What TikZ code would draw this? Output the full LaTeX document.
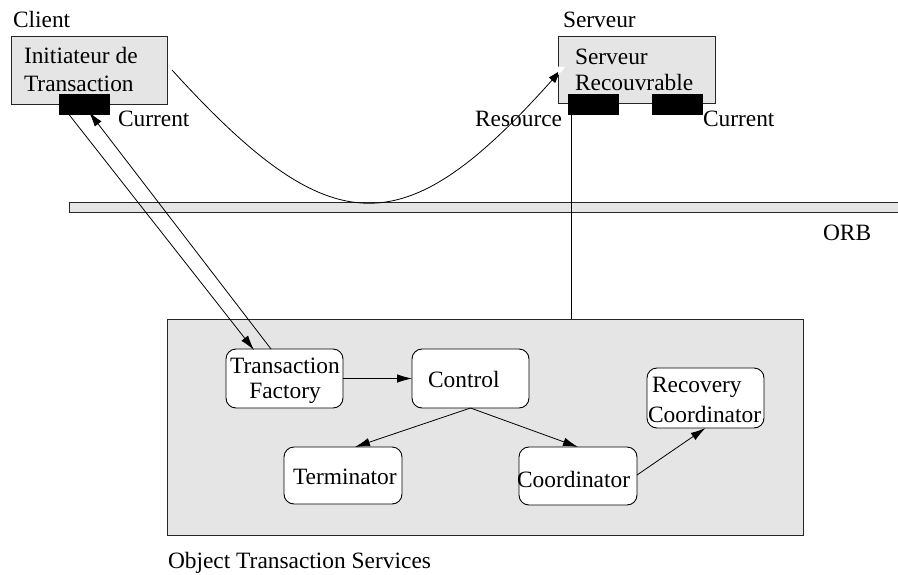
\documentclass[tikz,border=0pt]{standalone}
\usepackage{fontspec}
\setmainfont{Liberation Serif}
\usetikzlibrary{arrows.meta}
\definecolor{panel}{gray}{0.898}
\definecolor{edge}{gray}{0.15}
\tikzset{
  shaded/.style={draw=edge, fill=panel, line width=1pt, inner sep=0pt, outer sep=0pt},
  stub/.style={fill=black, draw=black, inner sep=0pt, outer sep=0pt, minimum width=50pt, minimum height=20pt},
  objbox/.style={draw=black, fill=white, line width=0.9pt, rounded corners=10pt, inner sep=0pt, outer sep=0pt},
  txt/.style={inner sep=0pt, outer sep=0pt, anchor=base west, font=\fontsize{23.4}{26}\selectfont},
  ctxt/.style={txt, anchor=base},
  link/.style={line width=0.8pt, -{Latex[length=15pt,width=8.5pt]}},
  wire/.style={line width=0.8pt}
}
\begin{document}
\begin{tikzpicture}[x=1pt,y=-1pt]
\useasboundingbox (0,0) rectangle (898,574);

% ORB bus
\node[shaded, minimum width=835pt, minimum height=10pt, anchor=north west] (orb) at (69,202) {};
\node[txt] (orblbl) at (823,240) {ORB};

% client side
\node[txt] (clientlbl) at (13,27) {Client};
\node[shaded, minimum width=156pt, minimum height=68pt] (client) at (89,70) {};
\node[txt] (cliA) at (24,63) {Initiateur de};
\node[txt] (cliB) at (24,91) {Transaction};
\node[stub] (cliCur) at (84,104) {};
\node[txt] (cliCurlbl) at (118,126) {Current};

% server side
\node[txt] (serverlbl) at (563,27) {Serveur};
\node[shaded, minimum width=157pt, minimum height=67pt] (server) at (636.5,69.5) {};
\node[txt] (srvA) at (575,64) {Serveur};
\node[txt] (srvB) at (575,90) {Recouvrable};
\node[stub] (srvRes) at (593,104) {};
\node[stub] (srvCur) at (677,104) {};
\node[txt] (srvReslbl) at (475,126) {Resource};
\node[txt] (srvCurlbl) at (703,126) {Current};

% transaction service
\node[shaded, minimum width=636pt, minimum height=216pt] (ots) at (485,427) {};
\node[txt] (otslbl) at (168,568) {Object Transaction Services};

\node[objbox, minimum width=117pt, minimum height=59pt] (fact) at (284.5,378.5) {};
\node[ctxt] (factA) at (285,373) {Transaction};
\node[ctxt] (factB) at (285,398) {Factory};

\node[objbox, minimum width=117pt, minimum height=59pt] (ctrl) at (470.5,378.5) {};
\node[txt] (ctrlA) at (428,387) {Control};

\node[objbox, minimum width=118pt, minimum height=57pt] (term) at (343,475.5) {};
\node[txt] (termA) at (293,484) {Terminator};

\node[objbox, minimum width=118pt, minimum height=58pt] (coord) at (578,476) {};
\node[txt] (coordA) at (517,487) {Coordinator};

\node[objbox, minimum width=117pt, minimum height=60pt] (recov) at (705.5,398) {};
\node[txt] (recovA) at (652,392) {Recovery};
\node[txt] (recovB) at (648,422) {Coordinator};

% connectors inside the service
\draw[link] (fact.east) -- (ctrl.west);
\draw[link] (ctrl.south) -- ([xshift=12pt]term.north);
\draw[link] (ctrl.south) -- (coord.north);
\draw[link] ([yshift=1pt]coord.east) -- (recov.south);

% client <-> factory
\draw[link] ([xshift=8pt,yshift=2pt]cliCur.south west) -- ([xshift=28pt,yshift=-1pt]fact.north west);
\draw[link] ([xshift=45pt]fact.north west) -- ([xshift=30pt,yshift=2pt]cliCur.south west);

% resource registration line
\coordinate (resFoot) at ([xshift=3pt]srvRes.south west);
\draw[wire] (resFoot) -- (resFoot |- ots.north);

% invocation from client to server
\draw[link] ([xshift=5pt]client.east) .. controls (332,246) and (404,246) .. ([xshift=4pt,yshift=0.5pt]server.west);
\fill[white] (558,75) -- (558,66.5) -- (565,67) -- (562,71) -- cycle;
\end{tikzpicture}
\end{document}
